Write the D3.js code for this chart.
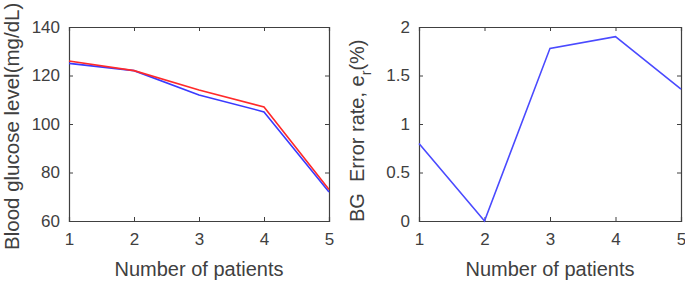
<!DOCTYPE html>
<html>
<head>
<meta charset="utf-8">
<script src="https://cdn.jsdelivr.net/npm/d3@7"></script>
<style>
  body { margin: 0; background: #fff; }
  text { font-family: "Liberation Sans", Arial, sans-serif; fill: #404040; }
</style>
</head>
<body>
<div id="chart"></div>
<script>
// patients on the x axis, two BG series on the left, error rate on the right
let patients = [1, 2, 3, 4, 5];
let bgRed = [126, 122, 114, 107, 73];
let bgBlue = [125, 122, 112, 105, 72];
let errorRate = [0.8, 0, 1.78, 1.9, 1.36];
let leftTicks = [60, 80, 100, 120, 140];
let rightTicks = [0, 0.5, 1, 1.5, 2];

let svg = d3.select("#chart")
    .append("svg")
    .attr("width", 685)
    .attr("height", 282);

let axisColor = "#404040";

function buildPanel(left, right, yDomain, yTicks, yFormat) {
    let top = 27, bottom = 221;
    let x = d3.scaleLinear().domain([1, 5]).range([left, right]);
    let y = d3.scaleLinear().domain(yDomain).range([bottom, top]);
    let g = svg.append("g");

    // inner ticks on all four sides (matlab box style)
    let axes = [
        {ax: d3.axisBottom(x).tickValues(patients).tickSize(-4).tickPadding(12).tickFormat(d3.format("d")), t: "translate(0," + bottom + ")", lab: true},
        {ax: d3.axisTop(x).tickValues(patients).tickSize(-4), t: "translate(0," + top + ")", lab: false},
        {ax: d3.axisLeft(y).tickValues(yTicks).tickSize(-4).tickPadding(9).tickFormat(yFormat), t: "translate(" + left + ",0)", lab: true},
        {ax: d3.axisRight(y).tickValues(yTicks).tickSize(-4), t: "translate(" + right + ",0)", lab: false}
    ];
    axes.forEach(function(a) {
        let ag = g.append("g").attr("transform", a.t).call(a.ax);
        ag.select(".domain").attr("stroke", axisColor).attr("stroke-width", 1.2);
        ag.selectAll(".tick line").attr("stroke", axisColor);
        ag.selectAll("text")
            .style("font-family", "Liberation Sans, Arial, sans-serif")
            .style("font-size", "17px")
            .attr("fill", axisColor)
            .style("display", a.lab ? null : "none");
    });

    g.append("text")
        .attr("x", (left + right) / 2)
        .attr("y", 276)
        .attr("text-anchor", "middle")
        .style("font-size", "20px")
        .text("Number of patients");

    return {x: x, y: y, g: g};
}

let p1 = buildPanel(69, 329, [60, 140], leftTicks, d3.format("d"));
let p2 = buildPanel(419, 681, [0, 2], rightTicks, function(d) { return d; });

function drawLine(p, values, color) {
    let line = d3.line()
        .x(function(d, i) { return p.x(patients[i]); })
        .y(function(d) { return p.y(d); });
    p.g.append("path")
        .datum(values)
        .attr("fill", "none")
        .attr("stroke", color)
        .attr("stroke-width", 1.6)
        .attr("d", line);
}

drawLine(p1, bgBlue, "#3a3aff");
drawLine(p1, bgRed, "#ff2a2a");
drawLine(p2, errorRate, "#4a4aff");

// y labels
svg.append("text")
    .attr("transform", "translate(19,250) rotate(-90)")
    .style("font-size", "20.5px")
    .text("Blood glucose level(mg/dL)");

let yl2 = svg.append("text")
    .attr("transform", "translate(364,222) rotate(-90)")
    .style("font-size", "20px");
yl2.append("tspan").attr("xml:space", "preserve").text("BG  Error rate, e");
yl2.append("tspan").attr("dy", 7).style("font-size", "14px").text("r");
yl2.append("tspan").attr("dy", -7).text("(%)");
</script>
</body>
</html>
